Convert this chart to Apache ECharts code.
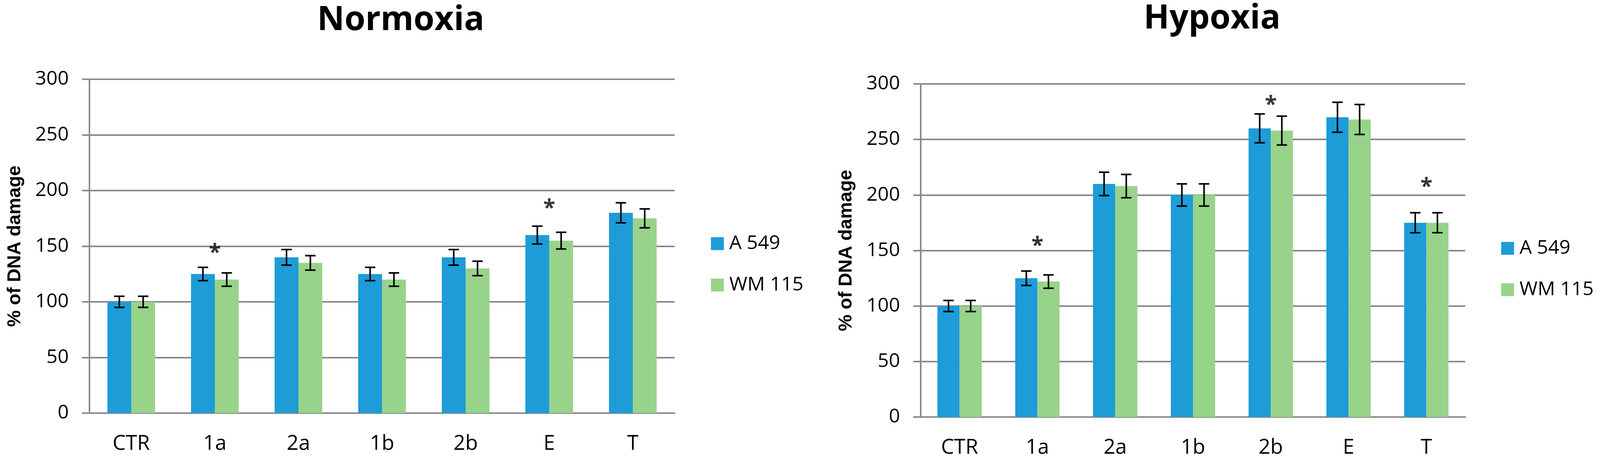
<!DOCTYPE html>
<html>
<head>
<meta charset="utf-8">
<script src="https://cdn.jsdelivr.net/npm/echarts@6/dist/echarts.min.js"></script>
<style>
  html, body { margin: 0; padding: 0; background: #fff; overflow: hidden; }
  #main { width: 100vw; height: 1196px; }
</style>
</head>
<body>
<div id="main"></div>
<script>
// categories and values
var categories = ['CTR', '1a', '2a', '1b', '2b', 'E', 'T'];

var normA549 = [100, 125, 140, 125, 140, 160, 180];
var normWM115 = [100, 120, 135, 120, 130, 155, 175];
var normA549Err = [5, 6, 7, 6, 7, 8, 9];
var normWM115Err = [5, 6, 6.5, 6, 6.5, 7.5, 8.5];
var normStarCats = ['1a', 'E'];
var normStarY = [144, 184];

var hypA549 = [100, 125, 210, 200, 260, 270, 175];
var hypWM115 = [100, 122, 208, 200, 258, 268, 175];
var hypA549Err = [5, 6.5, 10.5, 10, 13, 13.5, 9];
var hypWM115Err = [5, 6, 10.5, 10, 13, 13.5, 9];
var hypStarCats = ['1a', '2b', 'T'];
var hypStarY = [154, 281, 207];

var yTicks = [0, 50, 100, 150, 200, 250, 300];

var BLUE = '#1d9cd8';
var GREEN = '#98d38a';
var GREY = '#898989';
var FONT = 'Open Sans';

// the window may be narrower than the 4142px design, scale x positions to fit
var sx = (window.innerWidth || 4142) / 4142;
function X(v) { return Math.round(v * sx); }

// bars take 57% of each category, two bars side by side
var BAR_SHARE = 0.57;

function errData(vals, errs) {
    return vals.map(function (v, i) { return [i, v, errs[i]]; });
}

function starData(cats, ys) {
    return cats.map(function (c, i) { return [categories.indexOf(c), ys[i]]; });
}

// error bar drawn at the centre of the left (-1) or right (+1) bar
function errorBars(sign) {
    return function (params, api) {
        var idx = api.value(0);
        var v = api.value(1);
        var e = api.value(2);
        var hi = api.coord([idx, v + e]);
        var lo = api.coord([idx, v - e]);
        var band = api.size([1, 0])[0];
        var cx = hi[0] + sign * band * BAR_SHARE / 4;
        var hw = 13.5 * sx;
        var st = { stroke: '#000', lineWidth: 4 };
        return {
            type: 'group',
            children: [
                { type: 'line', shape: { x1: cx, y1: hi[1], x2: cx, y2: lo[1] }, style: st },
                { type: 'line', shape: { x1: cx - hw, y1: hi[1], x2: cx + hw, y2: hi[1] }, style: st },
                { type: 'line', shape: { x1: cx - hw, y1: lo[1], x2: cx + hw, y2: lo[1] }, style: st }
            ]
        };
    };
}

function makeXAxis(gi) {
    return {
        type: 'category',
        gridIndex: gi,
        data: categories,
        axisLine: { lineStyle: { color: GREY, width: 4 } },
        axisTick: { show: false },
        axisLabel: { color: '#000', fontFamily: FONT, fontSize: 53, margin: 52 }
    };
}

function makeYAxis(gi) {
    return {
        type: 'value',
        gridIndex: gi,
        min: yTicks[0],
        max: yTicks[yTicks.length - 1],
        interval: yTicks[1] - yTicks[0],
        name: '% of DNA damage',
        nameLocation: 'middle',
        nameGap: X(168),
        nameTextStyle: { color: '#000', fontFamily: 'Liberation Sans', fontWeight: 'bold', fontSize: 48 },
        axisLine: { show: true, lineStyle: { color: GREY, width: 4 } },
        axisTick: { show: true, length: X(19), lineStyle: { color: GREY, width: 4 } },
        splitLine: { lineStyle: { color: GREY, width: 4 } },
        axisLabel: { color: '#000', fontFamily: FONT, fontSize: 50, margin: X(54) }
    };
}

function makeSeries(gi, a, w, aErr, wErr, stars) {
    var barCommon = {
        type: 'bar',
        xAxisIndex: gi,
        yAxisIndex: gi,
        barGap: '0%',
        barCategoryGap: ((1 - BAR_SHARE) * 100) + '%'
    };
    return [
        Object.assign({ name: 'A 549', data: a, itemStyle: { color: BLUE } }, barCommon),
        Object.assign({ name: 'WM 115', data: w, itemStyle: { color: GREEN } }, barCommon),
        {
            type: 'custom', xAxisIndex: gi, yAxisIndex: gi, z: 5,
            renderItem: errorBars(-1), data: errData(a, aErr),
            encode: { x: 0, y: [1] }, silent: true
        },
        {
            type: 'custom', xAxisIndex: gi, yAxisIndex: gi, z: 5,
            renderItem: errorBars(1), data: errData(w, wErr),
            encode: { x: 0, y: [1] }, silent: true
        },
        {
            type: 'scatter', xAxisIndex: gi, yAxisIndex: gi, z: 6,
            symbolSize: 1, itemStyle: { color: 'rgba(0,0,0,0)' },
            data: stars, silent: true,
            label: {
                show: true, position: 'inside', formatter: '*',
                color: '#000', fontFamily: FONT, fontWeight: 'bold', fontSize: 56
            }
        }
    ];
}

var chart = echarts.init(document.getElementById('main'));

var option = {
    backgroundColor: '#fff',
    animation: false,
    title: [
        { text: 'Normoxia', left: X(1038), top: 9, textAlign: 'center', padding: 0,
          textStyle: { fontFamily: FONT, fontWeight: 'bold', fontSize: 86, color: '#000' } },
        { text: 'Hypoxia', left: X(3138), top: 5, textAlign: 'center', padding: 0,
          textStyle: { fontFamily: FONT, fontWeight: 'bold', fontSize: 86, color: '#000' } }
    ],
    legend: [
        {
            orient: 'vertical', left: X(1840), top: 599, padding: 0,
            itemWidth: 33, itemHeight: 33, itemGap: 56, icon: 'rect',
            data: ['A 549', 'WM 115'],
            textStyle: { fontFamily: FONT, fontSize: 50, color: '#000', padding: [0, 0, 0, 9] }
        },
        {
            orient: 'vertical', left: X(3886), top: 611, padding: 0,
            itemWidth: 33, itemHeight: 33, itemGap: 56, icon: 'rect',
            data: ['A 549', 'WM 115'],
            textStyle: { fontFamily: FONT, fontSize: 50, color: '#000', padding: [0, 0, 0, 9] }
        }
    ],
    grid: [
        { left: X(232), top: 203, width: X(1515), height: 855 },
        { left: X(2383), top: 215, width: X(1410), height: 853 }
    ],
    xAxis: [makeXAxis(0), makeXAxis(1)],
    yAxis: [makeYAxis(0), makeYAxis(1)],
    series: makeSeries(0, normA549, normWM115, normA549Err, normWM115Err, starData(normStarCats, normStarY))
        .concat(makeSeries(1, hypA549, hypWM115, hypA549Err, hypWM115Err, starData(hypStarCats, hypStarY)))
};

chart.setOption(option);
</script>
</body>
</html>
